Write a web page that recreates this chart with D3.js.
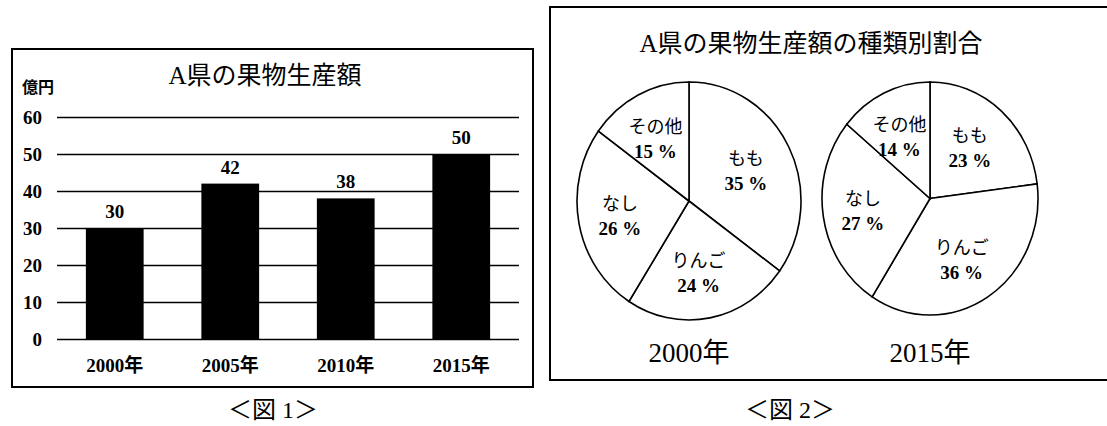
<!DOCTYPE html>
<html><head><meta charset="utf-8">
<script src="https://cdn.jsdelivr.net/npm/d3@7"></script>
<style>
body{margin:0;background:#fff;}
svg{display:block;}
text{font-family:"Liberation Serif","Noto Sans CJK JP",serif;fill:#000;}
</style></head>
<body>
<svg id="chart" width="1107" height="426"></svg>
<script>
// ---- data ----
const years = ["2000年","2005年","2010年","2015年"];
const values = [30, 42, 38, 50];
const yTicks = [0,10,20,30,40,50,60];
const fruits = ["もも","りんご","なし","その他"];
const share2000 = [35, 24, 26, 15];
const share2015 = [23, 36, 27, 14];
const pieYears = ["2000年","2015年"];

const svg = d3.select("#chart");

// ---- figure 1 : bar chart ----
svg.append("rect").attr("x",12).attr("y",49).attr("width",521).attr("height",338)
  .attr("fill","none").attr("stroke","#000").attr("stroke-width",2);

const x = d3.scaleBand().domain(years).range([57,519]).paddingInner(0.5).paddingOuter(0.25);
const y = d3.scaleLinear().domain([0,60]).range([339,117]);

const ya = svg.append("g").attr("transform","translate(57,0)")
  .call(d3.axisLeft(y).tickValues(yTicks).tickSize(-462).tickPadding(15));
ya.select(".domain").remove();
ya.selectAll(".tick line").attr("stroke","#000").attr("stroke-width",1.5);
ya.selectAll(".tick text").attr("font-size",19).attr("font-weight","bold")
  .attr("font-family","Liberation Serif, serif");

const xa = svg.append("g").attr("transform","translate(0,339)")
  .call(d3.axisBottom(x).tickSize(0).tickPadding(20));
xa.select(".domain").remove();
xa.selectAll(".tick text").attr("font-size",19).attr("font-weight","bold");

svg.append("g").selectAll("rect").data(values).join("rect")
  .attr("x",(d,i)=>x(years[i])).attr("width",x.bandwidth())
  .attr("y",d=>y(d)).attr("height",d=>y(0)-y(d)).attr("fill","#000");

svg.append("g").selectAll("text").data(values).join("text")
  .attr("x",(d,i)=>x(years[i])+x.bandwidth()/2).attr("y",d=>y(d)-10)
  .attr("text-anchor","middle").attr("font-size",19).attr("font-weight","bold")
  .text(d=>d);

svg.append("text").attr("x",22).attr("y",93).attr("font-size",16).attr("font-weight","bold").text("億円");
svg.append("text").attr("x",265).attr("y",84).attr("text-anchor","middle")
  .attr("font-size",25).text("A県の果物生産額");
svg.append("text").attr("x",273).attr("y",418).attr("text-anchor","middle")
  .attr("font-size",24).text("＜図 1＞");

// ---- figure 2 : pies ----
svg.append("rect").attr("x",550).attr("y",7).attr("width",600).attr("height",373)
  .attr("fill","none").attr("stroke","#000").attr("stroke-width",2);
svg.append("text").attr("x",811).attr("y",52).attr("text-anchor","middle")
  .attr("font-size",25).text("A県の果物生産額の種類別割合");
svg.append("text").attr("x",790).attr("y",418).attr("text-anchor","middle")
  .attr("font-size",24).text("＜図 2＞");

const pies = [
  {data:share2000, cx:689, cy:201, rx:112, ry:119},
  {data:share2015, cx:930, cy:198.5, rx:108, ry:116.5}
];
const pieGen = d3.pie().sort(null).value(d=>d);

pies.forEach((p,pi)=>{
  const sy = p.ry/p.rx;
  const g = svg.append("g").attr("transform",`translate(${p.cx},${p.cy}) scale(1,${sy})`);
  const arc = d3.arc().innerRadius(0).outerRadius(p.rx);
  const labArc = d3.arc().innerRadius(p.rx*0.6).outerRadius(p.rx*0.6);
  const arcs = pieGen(p.data);
  g.selectAll("path").data(arcs).join("path")
    .attr("d",arc).attr("fill","#fff").attr("stroke","#000").attr("stroke-width",1.6)
    .attr("vector-effect","non-scaling-stroke");
  arcs.forEach((a,i)=>{
    const c = labArc.centroid(a);
    const lx = p.cx + c[0] - 3, ly = p.cy + c[1]*sy;
    svg.append("text").attr("x",lx).attr("y",ly-4).attr("text-anchor","middle")
      .attr("font-size",18).text(fruits[i]);
    svg.append("text").attr("x",lx).attr("y",ly+21).attr("text-anchor","middle")
      .attr("font-size",19).attr("font-weight","bold").text(p.data[i]+" %");
  });
  svg.append("text").attr("x",p.cx).attr("y",362).attr("text-anchor","middle")
    .attr("font-size",27).text(pieYears[pi]);
});
</script>
</body></html>
